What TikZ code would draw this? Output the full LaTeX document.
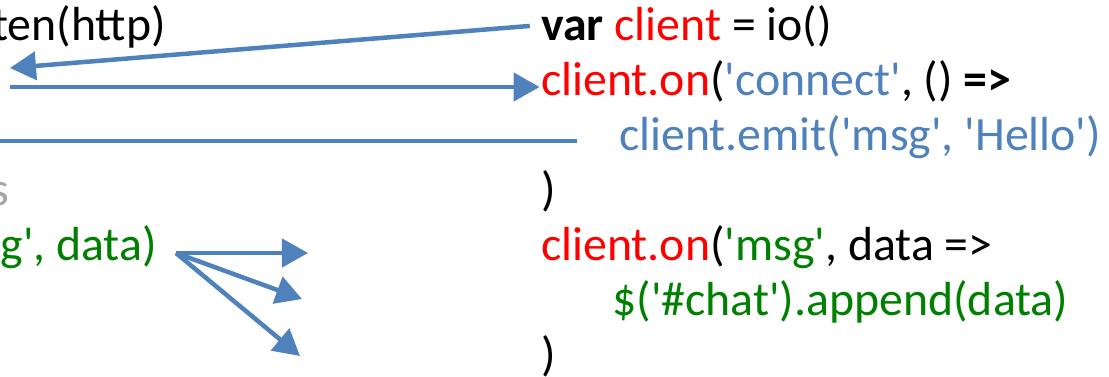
\documentclass[tikz,border=0pt]{standalone}
\usepackage{fontspec}
\setmainfont{Carlito}[Ligatures=TeXOff]
\usepackage{xcolor}
\usetikzlibrary{arrows.meta,positioning,calc}
\definecolor{wire}{HTML}{4F81BD}
\definecolor{kw}{HTML}{FF0000}
\definecolor{str}{HTML}{4F81BD}
\definecolor{cb}{HTML}{008000}
\definecolor{dim}{HTML}{A6A6A6}

\begin{document}
\begin{tikzpicture}[x=0.025cm,y=-0.025cm,
  font=\fontsize{34}{41}\selectfont,
  code/.style={anchor=base west, inner sep=0pt},
  left/.style={anchor=base east, inner sep=0pt},
  arr/.style={-{Triangle[length=6.5mm,width=7mm]}, wire, line width=3.2pt},
  wireline/.style={wire, line width=3.2pt}]
\useasboundingbox (0,0) rectangle (1109,376);
\clip (0,0) rectangle (1109,376);
% ----- client side (right column)
\node[code] (l1) at (541,40) {\textbf{var} \textcolor{kw}{client} = io()};
\node[code] (l2) at (541,95) {\textcolor{kw}{client.on}(\textcolor{str}{'connect'}, () \textbf{=>}};
\node[code] (l3) at (619,150) {\textcolor{str}{client.emit('msg', 'Hello')}};
\node[code] (l4) at (541,205) {)};
\node[code] (l5) at (541,260) {\textcolor{kw}{client.on}(\textcolor{cb}{'msg'}, data =>};
\node[code] (l6) at (612,315) {\textcolor{cb}{\$('\#chat').append(data)}};
\node[code] (l7) at (541,370) {)};
% ----- server side (left column, cut off)
\node[left] (s1) at (166,40) {ten(http)};
\node[left, text=dim] (s2) at (9,205) {s};
\node[left, text=cb] (s3) at (157,260) {g', data)};
% ----- free ends
\coordinate (lsn) at (10,68);
\coordinate (conn) at (10,87);
\coordinate (edge) at (0,141);
\coordinate (out1) at (308,253);
\coordinate (out2) at (302,299);
\coordinate (out3) at (300,356);
\coordinate (fan) at (176,253);
% ----- connectors
\draw[arr] ([xshift=-8pt,yshift=10pt]l1.base west) -- (lsn);
\draw[arr] (conn) -- ([xshift=-1pt]conn-|l2.west);
\draw[wireline] (edge) -- ([xshift=-30pt]l3.west|-edge);
\foreach \t in {out1,out2,out3} \draw[arr] (fan) -- (\t);
\end{tikzpicture}
\end{document}
